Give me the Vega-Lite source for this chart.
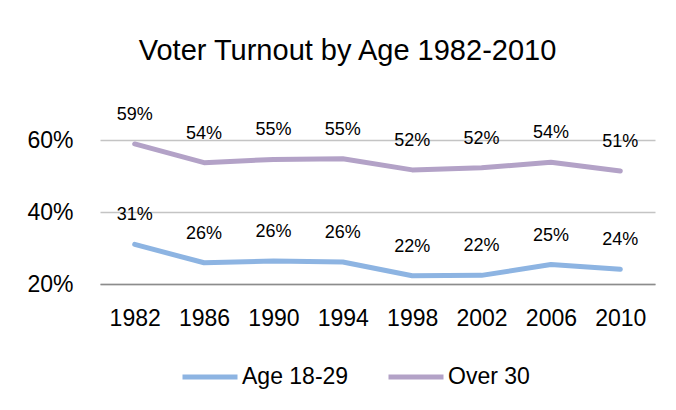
{
  "$schema": "https://vega.github.io/schema/vega-lite/v6.json",
  "width": 555,
  "height": 144,
  "autosize": {"type": "none"},
  "padding": {"left": 100, "top": 140, "right": 21, "bottom": 126},
  "background": "white",
  "title": {
    "text": "Voter Turnout by Age 1982-2010",
    "font": "Liberation Sans",
    "fontSize": 29,
    "fontWeight": "normal",
    "color": "#000000",
    "anchor": "middle",
    "baseline": "alphabetic",
    "dx": -30,
    "offset": 17
  },
  "data": {
    "values": [
      {"year": "1982", "group": "Age 18-29", "turnout": 0.310},
      {"year": "1986", "group": "Age 18-29", "turnout": 0.259},
      {"year": "1990", "group": "Age 18-29", "turnout": 0.264},
      {"year": "1994", "group": "Age 18-29", "turnout": 0.261},
      {"year": "1998", "group": "Age 18-29", "turnout": 0.223},
      {"year": "2002", "group": "Age 18-29", "turnout": 0.224},
      {"year": "2006", "group": "Age 18-29", "turnout": 0.254},
      {"year": "2010", "group": "Age 18-29", "turnout": 0.241},
      {"year": "1982", "group": "Over 30", "turnout": 0.589},
      {"year": "1986", "group": "Over 30", "turnout": 0.537},
      {"year": "1990", "group": "Over 30", "turnout": 0.546},
      {"year": "1994", "group": "Over 30", "turnout": 0.548},
      {"year": "1998", "group": "Over 30", "turnout": 0.517},
      {"year": "2002", "group": "Over 30", "turnout": 0.523},
      {"year": "2006", "group": "Over 30", "turnout": 0.538},
      {"year": "2010", "group": "Over 30", "turnout": 0.514}
    ]
  },
  "encoding": {
    "x": {
      "field": "year",
      "type": "ordinal",
      "scale": {"type": "point", "padding": 0.5},
      "axis": {
        "title": null,
        "labelAngle": 0,
        "ticks": false,
        "grid": false,
        "domain": true,
        "domainColor": "#8c8c8c",
        "domainWidth": 1.5,
        "labelPadding": 23,
        "labelFont": "Liberation Sans",
        "labelFontSize": 23,
        "labelColor": "#000000"
      }
    },
    "y": {
      "field": "turnout",
      "type": "quantitative",
      "scale": {"domain": [0.2, 0.6], "nice": false, "zero": false},
      "axis": {
        "title": null,
        "values": [0.2, 0.4, 0.6],
        "format": ".0%",
        "ticks": false,
        "domain": false,
        "grid": true,
        "gridColor": "#c4c4c4",
        "gridWidth": 1.5,
        "labelPadding": 27,
        "labelFont": "Liberation Sans",
        "labelFontSize": 23,
        "labelColor": "#000000"
      }
    },
    "color": {
      "field": "group",
      "type": "nominal",
      "scale": {"domain": ["Age 18-29", "Over 30"], "range": ["#8DB4E2", "#B3A2C7"]},
      "legend": {
        "title": null,
        "orient": "none",
        "legendX": 80,
        "legendY": 207,
        "direction": "horizontal",
        "padding": 0,
        "symbolType": "stroke",
        "symbolSize": 3025,
        "symbolStrokeWidth": 5,
        "labelOffset": 2,
        "columnPadding": 29,
        "labelFont": "Liberation Sans",
        "labelFontSize": 23,
        "labelColor": "#000000",
        "labelLimit": 300
      }
    }
  },
  "layer": [
    {
      "mark": {"type": "line", "strokeWidth": 5, "strokeCap": "round", "strokeJoin": "round"}
    },
    {
      "mark": {
        "type": "text",
        "dy": -24,
        "baseline": "alphabetic",
        "font": "Liberation Sans",
        "fontSize": 18
      },
      "encoding": {
        "text": {"field": "turnout", "type": "quantitative", "format": ".0%"},
        "color": {"value": "#000000"}
      }
    }
  ],
  "config": {"view": {"stroke": null}}
}
